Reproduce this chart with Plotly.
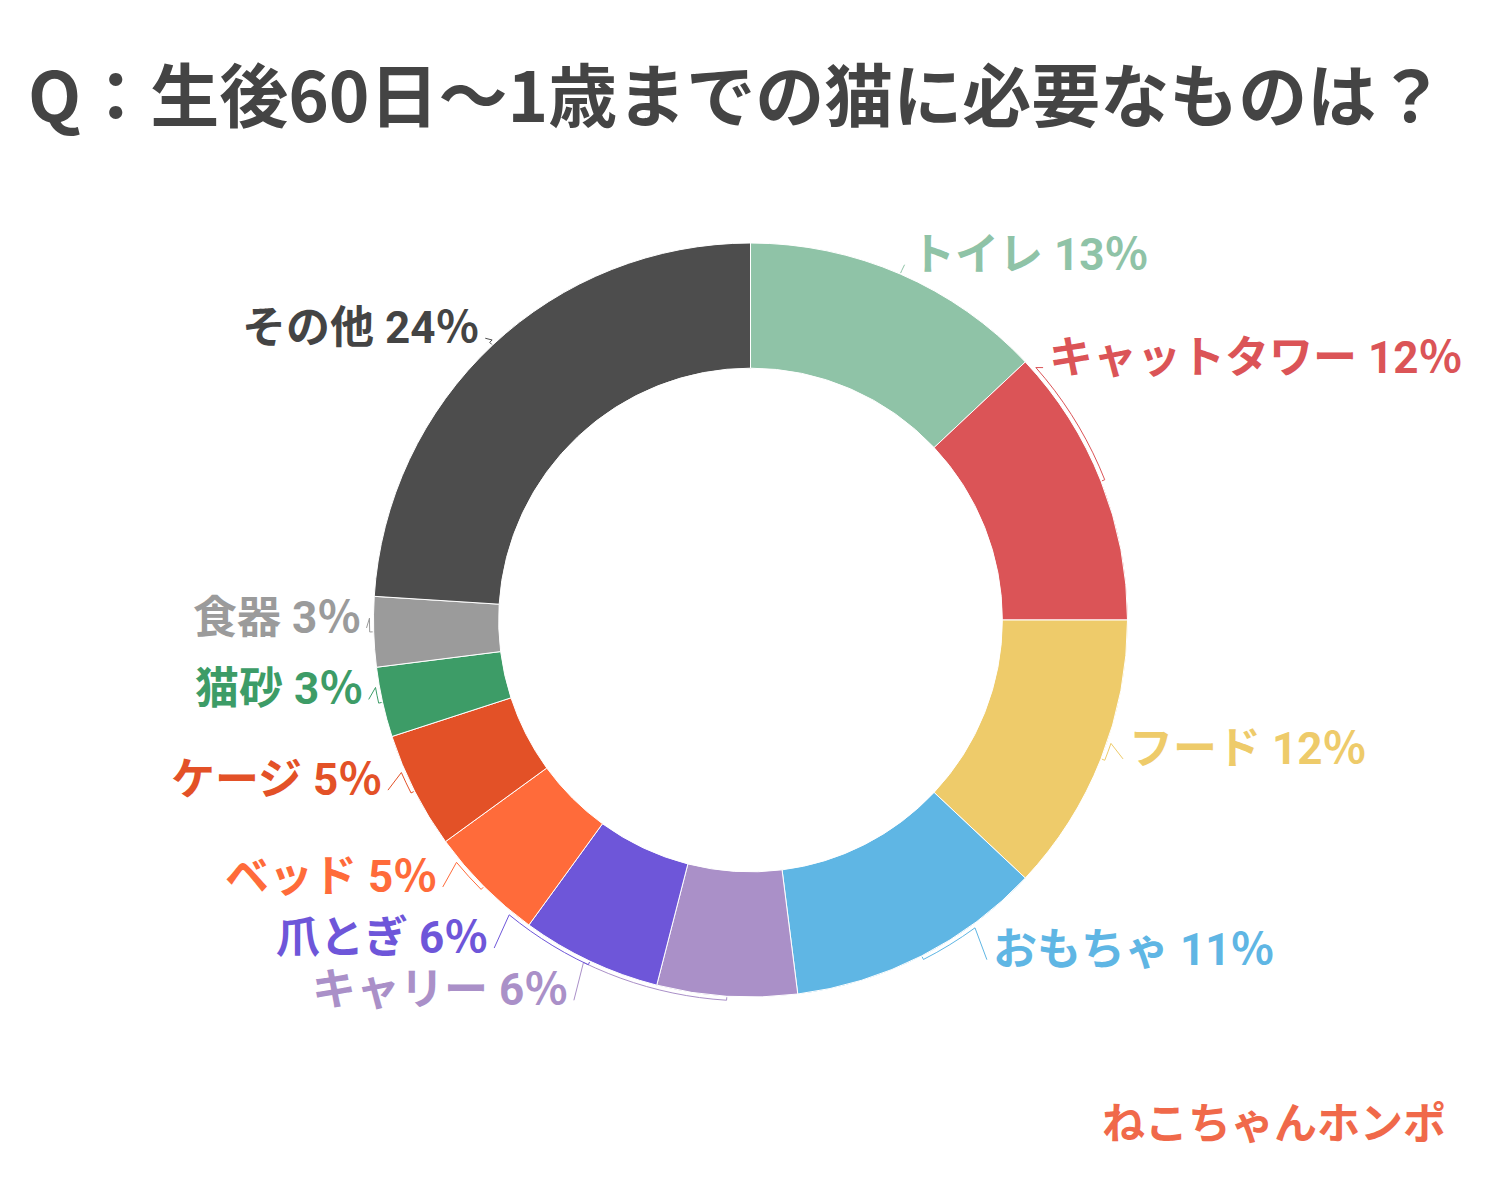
import math
import plotly.graph_objects as go

# ---- data ----
categories = ["トイレ", "キャットタワー", "フード", "おもちゃ", "キャリー", "爪とぎ",
              "ベッド", "ケージ", "猫砂", "食器", "その他"]
percent = [13, 12, 12, 11, 6, 6, 5, 5, 3, 3, 24]
colors = ["#8FC3A7", "#DB5457", "#EECB6A", "#5FB6E4", "#AA90C8", "#6E56D9",
          "#FF6B3A", "#E35127", "#3D9C67", "#9B9B9B", "#4D4D4D"]
label_colors = ["#8FC3A7", "#DB5457", "#EECB6A", "#5FB6E4", "#AA90C8", "#6E56D9",
                "#FF6B3A", "#E35127", "#3D9C67", "#9B9B9B", "#444444"]
title_text = "Q：生後60日～1歳までの猫に必要なものは？"
logo_text = "ねこちゃんホンポ"

# ---- layout (label placement, polar around pie centre) ----
label_angle = [23.4, 48.5, 108.9, 143.9, 206.0, 219.3, 230.5, 246.4, 259.8, 270.3, 317.3]
label_radius = [398, 396, 398, 408, 412, 411, 404, 400, 392, 388, 397]

W, H = 1500, 1200
PAGE = 8  # page body margin in the browser
CX, CY, R = 750.5, 620, 377
HOLE = 0.668

FONT = "Roboto, 'Noto Sans CJK JP', sans-serif"


def to_paper(px, py):
    return (px - PAGE) / W, 1 - (py - PAGE) / H


def polar(theta_deg, r):
    t = math.radians(theta_deg)
    return CX + r * math.sin(t), CY - r * math.cos(t)


x0, y0 = to_paper(CX - R, CY + R)
x1, y1 = to_paper(CX + R, CY - R)

fig = go.Figure()
fig.add_trace(go.Pie(
    labels=categories, values=percent, sort=False, direction="clockwise",
    rotation=0, hole=HOLE, textinfo="none", hoverinfo="label+percent",
    marker=dict(colors=colors, line=dict(color="white", width=1)),
    domain=dict(x=[x0, x1], y=[y0, y1]),
    showlegend=False,
))

total = sum(percent)
cum = 0
annotations = []
shapes = []
for i, (cat, v) in enumerate(zip(categories, percent)):
    mid = (cum + v / 2) / total * 360
    cum += v
    la = label_angle[i]
    tx, ty = polar(la, label_radius[i])
    right_side = math.sin(math.radians(la)) > 0
    # leader path: short radial tick, arc along the rim, then to the label
    pts = [polar(mid, R + 1), polar(mid, R + 4)]
    steps = max(2, int(abs(la - mid) / 2))
    for s in range(1, steps + 1):
        pts.append(polar(mid + (la - mid) * s / steps, R + 4))
    ax = tx - 4 if right_side else tx + 4
    pts.append((ax, ty + 10))
    path = "M " + " L ".join(f"{to_paper(*p)[0]:.5f},{to_paper(*p)[1]:.5f}" for p in pts)
    shapes.append(dict(type="path", path=path, xref="paper", yref="paper",
                       line=dict(color=colors[i], width=1)))
    xp, yp = to_paper(tx, ty)
    annotations.append(dict(
        x=xp, y=yp, xref="paper", yref="paper", showarrow=False,
        xanchor="left" if right_side else "right", yanchor="middle",
        text=f"<b>{cat} {v}％</b>",
        font=dict(family=FONT, size=44, color=label_colors[i]),
    ))

tx_, ty_ = to_paper(26, 92)
annotations.append(dict(
    x=tx_, y=ty_, xref="paper", yref="paper", showarrow=False,
    xanchor="left", yanchor="middle", text=f"<b>{title_text}</b>",
    font=dict(family="'Noto Sans CJK JP', sans-serif", size=69, color="#444444"),
))
lx_, ly_ = to_paper(1448, 1120)
annotations.append(dict(
    x=lx_, y=ly_, xref="paper", yref="paper", showarrow=False,
    xanchor="right", yanchor="middle", text=f"<b>{logo_text}</b>",
    font=dict(family="'Noto Sans CJK JP', sans-serif", size=43, color="#F0694A"),
))

fig.update_layout(
    width=W, height=H, margin=dict(l=0, r=0, t=0, b=0),
    paper_bgcolor="white", plot_bgcolor="white",
    annotations=annotations, shapes=shapes,
)
fig.write_html("out.html")
